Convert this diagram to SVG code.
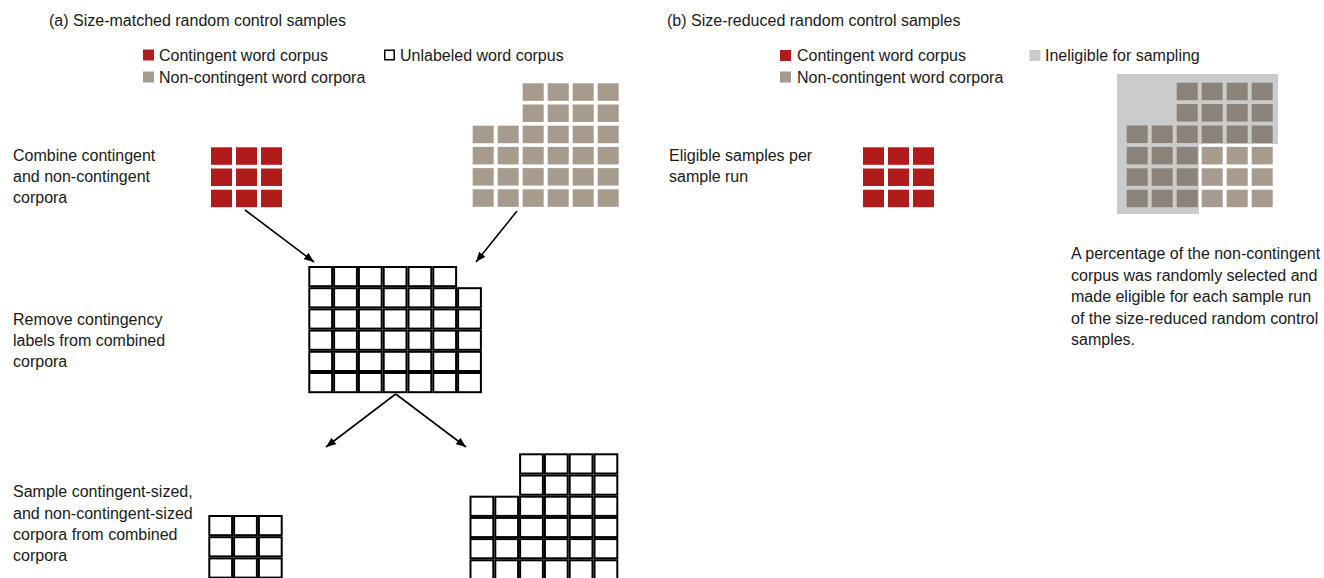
<svg xmlns="http://www.w3.org/2000/svg" xmlns:xlink="http://www.w3.org/1999/xlink" width="1324" height="578" viewBox="0 0 1324 578">
<style>
text{font-family:"Liberation Sans",Arial,Helvetica,sans-serif;font-size:16px;fill:#1a1a1a}
.red{fill:#b01b1c}
.gray{fill:#a69b8d}
.dark{fill:#8b8279}
.inel{fill:#cbcbcb}
.wcell{fill:#ffffff;stroke:#000;stroke-width:2}
.conn{stroke:#000;stroke-width:1.6;fill:none;marker-end:url(#ah)}
</style>
<defs>
<rect id="rc" width="21" height="17.5" class="red"/>
<rect id="gc" width="21" height="17.5" class="gray"/>
<rect id="dc" width="21" height="17.5" class="dark"/>
<rect id="wc" width="22.8" height="19.2" class="wcell"/>
<marker id="ah" viewBox="0 0 10 8" refX="10" refY="4" markerWidth="10" markerHeight="8" markerUnits="userSpaceOnUse" orient="auto">
<path d="M0,0 L10,4 L0,8 Z" fill="#000"/>
</marker>
</defs>
<rect width="1324" height="578" fill="#fff"/>

<g id="title-a"><text x="49" y="26">(a) Size-matched random control samples</text></g>
<g id="title-b"><text x="667" y="26">(b) Size-reduced random control samples</text></g>

<g id="legend-a">
<rect x="143" y="49.5" width="11" height="11" class="red"/>
<text x="159" y="61">Contingent word corpus</text>
<rect x="143" y="71.5" width="11" height="11" class="gray"/>
<text x="159" y="83">Non-contingent word corpora</text>
<rect x="384.75" y="50.25" width="9.5" height="9.5" fill="#fff" stroke="#000" stroke-width="1.5"/>
<text x="400" y="61">Unlabeled word corpus</text>
</g>

<g id="legend-b">
<rect x="780" y="50" width="11" height="11" class="red"/>
<text x="797" y="61">Contingent word corpus</text>
<rect x="780" y="71.5" width="11" height="11" class="gray"/>
<text x="797" y="83">Non-contingent word corpora</text>
<rect x="1029.5" y="50" width="11" height="11" class="inel"/>
<text x="1045" y="61">Ineligible for sampling</text>
</g>

<g id="label-combine"><text x="13" y="161">Combine contingent</text><text x="13" y="182">and non-contingent</text><text x="13" y="203">corpora</text></g>
<g id="label-remove"><text x="13" y="325">Remove contingency</text><text x="13" y="346">labels from combined</text><text x="13" y="367">corpora</text></g>
<g id="label-sample"><text x="13" y="497">Sample contingent-sized,</text><text x="13" y="519">and non-contingent-sized</text><text x="13" y="540">corpora from combined</text><text x="13" y="561">corpora</text></g>
<g id="label-eligible"><text x="669" y="161">Eligible samples per</text><text x="669" y="182">sample run</text></g>
<g id="note-b"><text x="1071" y="259">A percentage of the non-contingent</text><text x="1071" y="280.5">corpus was randomly selected and</text><text x="1071" y="302">made eligible for each sample run</text><text x="1071" y="323.5">of the size-reduced random control</text><text x="1071" y="345">samples.</text></g>

<g id="contingent-a">
<use href="#rc" x="211" y="147.3"/><use href="#rc" x="236" y="147.3"/><use href="#rc" x="261" y="147.3"/>
<use href="#rc" x="211" y="168.5"/><use href="#rc" x="236" y="168.5"/><use href="#rc" x="261" y="168.5"/>
<use href="#rc" x="211" y="189.7"/><use href="#rc" x="236" y="189.7"/><use href="#rc" x="261" y="189.7"/>
</g>

<g id="noncontingent-a">
<use href="#gc" x="522.7" y="83.3"/><use href="#gc" x="547.7" y="83.3"/><use href="#gc" x="572.7" y="83.3"/><use href="#gc" x="597.7" y="83.3"/>
<use href="#gc" x="522.7" y="104.5"/><use href="#gc" x="547.7" y="104.5"/><use href="#gc" x="572.7" y="104.5"/><use href="#gc" x="597.7" y="104.5"/>
<use href="#gc" x="472.7" y="125.7"/><use href="#gc" x="497.7" y="125.7"/><use href="#gc" x="522.7" y="125.7"/><use href="#gc" x="547.7" y="125.7"/><use href="#gc" x="572.7" y="125.7"/><use href="#gc" x="597.7" y="125.7"/>
<use href="#gc" x="472.7" y="146.9"/><use href="#gc" x="497.7" y="146.9"/><use href="#gc" x="522.7" y="146.9"/><use href="#gc" x="547.7" y="146.9"/><use href="#gc" x="572.7" y="146.9"/><use href="#gc" x="597.7" y="146.9"/>
<use href="#gc" x="472.7" y="168.1"/><use href="#gc" x="497.7" y="168.1"/><use href="#gc" x="522.7" y="168.1"/><use href="#gc" x="547.7" y="168.1"/><use href="#gc" x="572.7" y="168.1"/><use href="#gc" x="597.7" y="168.1"/>
<use href="#gc" x="472.7" y="189.3"/><use href="#gc" x="497.7" y="189.3"/><use href="#gc" x="522.7" y="189.3"/><use href="#gc" x="547.7" y="189.3"/><use href="#gc" x="572.7" y="189.3"/><use href="#gc" x="597.7" y="189.3"/>
</g>

<g id="combined">
<use href="#wc" x="309.3" y="267"/><use href="#wc" x="334.1" y="267"/><use href="#wc" x="358.9" y="267"/><use href="#wc" x="383.7" y="267"/><use href="#wc" x="408.5" y="267"/><use href="#wc" x="433.3" y="267"/>
<use href="#wc" x="309.3" y="288.2"/><use href="#wc" x="334.1" y="288.2"/><use href="#wc" x="358.9" y="288.2"/><use href="#wc" x="383.7" y="288.2"/><use href="#wc" x="408.5" y="288.2"/><use href="#wc" x="433.3" y="288.2"/><use href="#wc" x="458.1" y="288.2"/>
<use href="#wc" x="309.3" y="309.4"/><use href="#wc" x="334.1" y="309.4"/><use href="#wc" x="358.9" y="309.4"/><use href="#wc" x="383.7" y="309.4"/><use href="#wc" x="408.5" y="309.4"/><use href="#wc" x="433.3" y="309.4"/><use href="#wc" x="458.1" y="309.4"/>
<use href="#wc" x="309.3" y="330.6"/><use href="#wc" x="334.1" y="330.6"/><use href="#wc" x="358.9" y="330.6"/><use href="#wc" x="383.7" y="330.6"/><use href="#wc" x="408.5" y="330.6"/><use href="#wc" x="433.3" y="330.6"/><use href="#wc" x="458.1" y="330.6"/>
<use href="#wc" x="309.3" y="351.8"/><use href="#wc" x="334.1" y="351.8"/><use href="#wc" x="358.9" y="351.8"/><use href="#wc" x="383.7" y="351.8"/><use href="#wc" x="408.5" y="351.8"/><use href="#wc" x="433.3" y="351.8"/><use href="#wc" x="458.1" y="351.8"/>
<use href="#wc" x="309.3" y="373"/><use href="#wc" x="334.1" y="373"/><use href="#wc" x="358.9" y="373"/><use href="#wc" x="383.7" y="373"/><use href="#wc" x="408.5" y="373"/><use href="#wc" x="433.3" y="373"/><use href="#wc" x="458.1" y="373"/>
</g>

<g id="sample-contingent">
<use href="#wc" x="209.3" y="516"/><use href="#wc" x="234.1" y="516"/><use href="#wc" x="258.9" y="516"/>
<use href="#wc" x="209.3" y="537.2"/><use href="#wc" x="234.1" y="537.2"/><use href="#wc" x="258.9" y="537.2"/>
<use href="#wc" x="209.3" y="558.4"/><use href="#wc" x="234.1" y="558.4"/><use href="#wc" x="258.9" y="558.4"/>
</g>

<g id="sample-noncontingent">
<use href="#wc" x="520.1" y="454.3"/><use href="#wc" x="544.9" y="454.3"/><use href="#wc" x="569.7" y="454.3"/><use href="#wc" x="594.5" y="454.3"/>
<use href="#wc" x="520.1" y="475.5"/><use href="#wc" x="544.9" y="475.5"/><use href="#wc" x="569.7" y="475.5"/><use href="#wc" x="594.5" y="475.5"/>
<use href="#wc" x="470.5" y="496.7"/><use href="#wc" x="495.3" y="496.7"/><use href="#wc" x="520.1" y="496.7"/><use href="#wc" x="544.9" y="496.7"/><use href="#wc" x="569.7" y="496.7"/><use href="#wc" x="594.5" y="496.7"/>
<use href="#wc" x="470.5" y="517.9"/><use href="#wc" x="495.3" y="517.9"/><use href="#wc" x="520.1" y="517.9"/><use href="#wc" x="544.9" y="517.9"/><use href="#wc" x="569.7" y="517.9"/><use href="#wc" x="594.5" y="517.9"/>
<use href="#wc" x="470.5" y="539.1"/><use href="#wc" x="495.3" y="539.1"/><use href="#wc" x="520.1" y="539.1"/><use href="#wc" x="544.9" y="539.1"/><use href="#wc" x="569.7" y="539.1"/><use href="#wc" x="594.5" y="539.1"/>
<use href="#wc" x="470.5" y="560.3"/><use href="#wc" x="495.3" y="560.3"/><use href="#wc" x="520.1" y="560.3"/><use href="#wc" x="544.9" y="560.3"/><use href="#wc" x="569.7" y="560.3"/><use href="#wc" x="594.5" y="560.3"/>
</g>

<g id="contingent-b">
<use href="#rc" x="863" y="147.3"/><use href="#rc" x="888" y="147.3"/><use href="#rc" x="913" y="147.3"/>
<use href="#rc" x="863" y="168.5"/><use href="#rc" x="888" y="168.5"/><use href="#rc" x="913" y="168.5"/>
<use href="#rc" x="863" y="189.7"/><use href="#rc" x="888" y="189.7"/><use href="#rc" x="913" y="189.7"/>
</g>

<g id="noncontingent-b">
<path d="M1117,74 H1278 V144 H1199 V214 H1117 Z" class="inel"/>
<use href="#dc" x="1176.7" y="82.7"/><use href="#dc" x="1201.7" y="82.7"/><use href="#dc" x="1226.7" y="82.7"/><use href="#dc" x="1251.7" y="82.7"/>
<use href="#dc" x="1176.7" y="104.1"/><use href="#dc" x="1201.7" y="104.1"/><use href="#dc" x="1226.7" y="104.1"/><use href="#dc" x="1251.7" y="104.1"/>
<use href="#dc" x="1126.7" y="125.5"/><use href="#dc" x="1151.7" y="125.5"/><use href="#dc" x="1176.7" y="125.5"/><use href="#dc" x="1201.7" y="125.5"/><use href="#dc" x="1226.7" y="125.5"/><use href="#dc" x="1251.7" y="125.5"/>
<use href="#dc" x="1126.7" y="146.9"/><use href="#dc" x="1151.7" y="146.9"/><use href="#dc" x="1176.7" y="146.9"/><use href="#gc" x="1201.7" y="146.9"/><use href="#gc" x="1226.7" y="146.9"/><use href="#gc" x="1251.7" y="146.9"/>
<use href="#dc" x="1126.7" y="168.3"/><use href="#dc" x="1151.7" y="168.3"/><use href="#dc" x="1176.7" y="168.3"/><use href="#gc" x="1201.7" y="168.3"/><use href="#gc" x="1226.7" y="168.3"/><use href="#gc" x="1251.7" y="168.3"/>
<use href="#dc" x="1126.7" y="189.7"/><use href="#dc" x="1151.7" y="189.7"/><use href="#dc" x="1176.7" y="189.7"/><use href="#gc" x="1201.7" y="189.7"/><use href="#gc" x="1226.7" y="189.7"/><use href="#gc" x="1251.7" y="189.7"/>
</g>

<g id="connectors">
<line x1="245" y1="210" x2="314" y2="262" class="conn"/>
<line x1="517" y1="211" x2="476" y2="262" class="conn"/>
<line x1="395.7" y1="394" x2="326" y2="447" class="conn"/>
<line x1="395.7" y1="394" x2="466" y2="447" class="conn"/>
</g>
</svg>
